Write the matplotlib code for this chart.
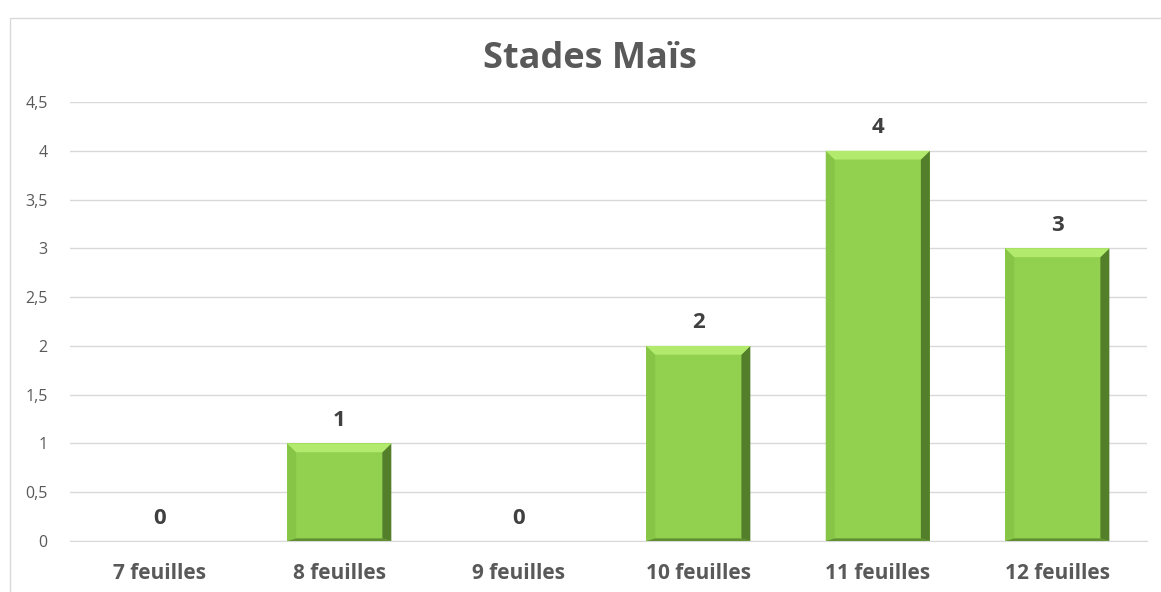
import matplotlib.pyplot as plt
from matplotlib.patches import Polygon, Rectangle

categories = ['7 feuilles', '8 feuilles', '9 feuilles', '10 feuilles', '11 feuilles', '12 feuilles']
values = [0, 1, 0, 2, 4, 3]
yticks = [0, 0.5, 1, 1.5, 2, 2.5, 3, 3.5, 4, 4.5]
ytick_labels = ['0', '0,5', '1', '1,5', '2', '2,5', '3', '3,5', '4', '4,5']

plt.rcParams['font.family'] = ['Open Sans', 'DejaVu Sans']

fig = plt.figure(figsize=(11.61, 5.92), dpi=100)
ax = fig.add_axes([0.0603, 0.0861, 0.9277, 0.7416])

x = list(range(len(categories)))
bars = ax.bar(x, values, width=0.58, color='#92d050', edgecolor='none', zorder=2)

# bevel effect like the spreadsheet chart
bx, by = 0.05, 0.09
for b in bars:
    h = b.get_height()
    if h <= 0:
        continue
    x0, x1 = b.get_x(), b.get_x() + b.get_width()
    top = [(x0, h), (x1, h), (x1 - bx, h - by), (x0 + bx, h - by)]
    right = [(x1, h), (x1, 0), (x1 - bx, by * 0.3), (x1 - bx, h - by)]
    bottom = [(x0, 0), (x1, 0), (x1 - bx, by * 0.3), (x0 + bx, by * 0.3)]
    left = [(x0, h), (x0 + bx, h - by), (x0 + bx, by * 0.3), (x0, 0)]
    ax.add_patch(Polygon(left, color='#86c546', lw=0, zorder=3))
    ax.add_patch(Polygon(bottom, color='#5f8f30', lw=0, zorder=3))
    ax.add_patch(Polygon(right, color='#547f2a', lw=0, zorder=3))
    ax.add_patch(Polygon(top, color='#b2ea6e', lw=0, zorder=3))

for xi, v in zip(x, values):
    ax.annotate(str(v), (xi, v), xytext=(0, 9), textcoords='offset points',
                ha='center', va='bottom', fontsize=16, fontweight='bold', color='#404040')

ax.set_xlim(-0.5, len(categories) - 0.5)
ax.set_ylim(0, 4.5)
ax.set_yticks(yticks)
ax.set_yticklabels(ytick_labels)
ax.set_xticks(x)
ax.set_xticklabels(categories, fontweight='bold', fontsize=15, color='#595959')
ax.tick_params(axis='y', length=0, pad=16, labelsize=11.5, labelcolor='#595959')
ax.tick_params(axis='x', length=0, pad=16)
ax.grid(axis='y', color='#d9d9d9', lw=1, zorder=0)
ax.set_axisbelow(True)
for s in ['left', 'right', 'top']:
    ax.spines[s].set_visible(False)
ax.spines['bottom'].set_color('#d9d9d9')

fig.text(0.508, 0.9, 'Stades Maïs', ha='center', va='center', fontsize=26,
         fontweight='bold', color='#595959')

# outer chart frame
fig.patches.append(Rectangle((10 / 1161, -0.01), 1.1, 0.99 - 12 / 592 + 0.01,
                             transform=fig.transFigure, fill=False, ec='#d9d9d9', lw=1))

fig.savefig('out.png', dpi=100)
